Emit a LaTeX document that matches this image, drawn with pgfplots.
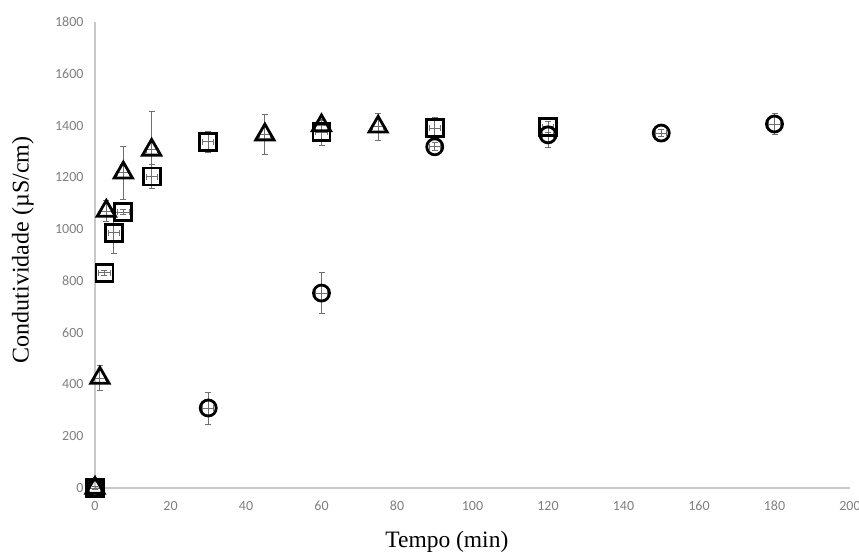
\documentclass[border=0pt]{standalone}
\usepackage{fontspec}
\setmainfont{Liberation Serif}
\newfontfamily\calib{Carlito}
\usepackage{pgfplots}
\usepackage{pgfplotstable}
\pgfplotsset{compat=1.18}
\definecolor{tickgray}{HTML}{7F7F7F}
\definecolor{axgray}{HTML}{C8C8C8}
\definecolor{errgray}{HTML}{6F6F6F}
\pgfplotstableread{
x y ex ey
0 0 1.5 5
1.3 425 1.5 47
3 1070 1.5 40
7.5 1218 1.5 103
15 1306 1.5 150
45 1365 1.5 77
60 1400 1.5 20
75 1395 1.5 52
}\triang
\pgfplotstableread{
x y ex ey
0 0 1.5 5
2.5 831 1.5 10
5 986 1.5 80
7.5 1066 1.5 10
15 1203 1.5 45
30 1337 1.5 39
60 1375 1.5 50
90 1390 1.5 43
120 1395 1.5 20
}\squares
\pgfplotstableread{
x y ex ey
0 0 1.5 5
30 309 1.5 62
60 753 1.5 80
90 1318 1.5 15
120 1364 1.5 50
150 1371 1.5 15
180 1406 1.5 40
}\circles
\pgfplotsset{myerr/.style={
  error bars/y dir=both, error bars/y explicit,
  error bars/x dir=both, error bars/x explicit,
  error bars/error bar style={errgray, line width=0.9pt},
  error bars/error mark options={rotate=90, errgray, mark size=3pt, line width=0.9pt}}}
\begin{document}
\begin{tikzpicture}[x=1pt,y=1pt]
\path[use as bounding box] (0,0) rectangle (859,554);
\begin{axis}[at={(95pt,66pt)}, anchor=south west, scale only axis,
  width=755pt, height=466pt,
  xmin=0, xmax=200, ymin=0, ymax=1800,
  xtick distance=20, ytick distance=200,
  axis lines=left,
  axis line style={-, draw=axgray, line width=1.2pt},
  major tick length=0pt,
  ticklabel style={font=\calib\fontsize{14}{16}\selectfont, text=tickgray},
  /pgf/number format/assume math mode=true,
  /pgf/number format/1000 sep={},
  yticklabel style={xshift=-8pt},
  xticklabel style={text height=9pt, text depth=0pt, yshift=-10pt},
  xlabel={Tempo (min)},
  ylabel={Condutividade (µS/cm)},
  xlabel style={font=\fontsize{23.5}{27}\selectfont, at={(axis description cs:0.466,-0.1159)}, anchor=center},
  ylabel style={font=\fontsize{24}{27}\selectfont, at={(axis description cs:-0.0954,0.511)}, anchor=center},
  clip=false,
]
\addplot[only marks, mark=o, mark size=8pt, mark options={black, line width=2.8pt}, myerr]
  table[x=x, y=y, x error=ex, y error=ey] {\circles};
\addplot[only marks, mark=triangle, mark size=10.5pt, mark options={black, line width=2.8pt}, myerr]
  table[x=x, y=y, x error=ex, y error=ey] {\triang};
\addplot[only marks, mark=square, mark size=8.5pt, mark options={black, line width=2.8pt}, myerr]
  table[x=x, y=y, x error=ex, y error=ey] {\squares};
\end{axis}
\end{tikzpicture}
\end{document}
